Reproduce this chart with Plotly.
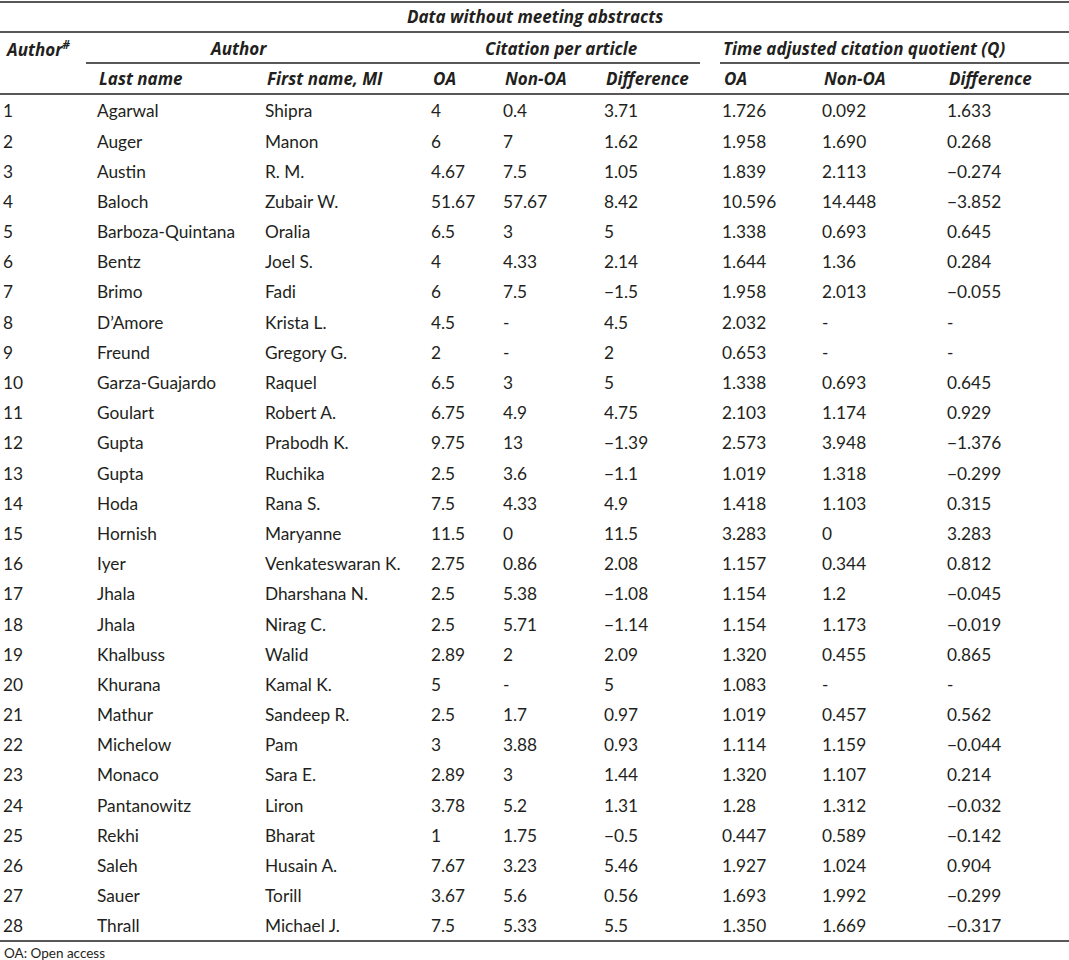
import plotly.graph_objects as go

# datos de la tabla (texto tal cual aparece)
author_no = [str(i) for i in range(1, 29)]
last_name = ["Agarwal", "Auger", "Austin", "Baloch", "Barboza-Quintana", "Bentz", "Brimo",
             "D\u2019Amore", "Freund", "Garza-Guajardo", "Goulart", "Gupta", "Gupta", "Hoda",
             "Hornish", "Iyer", "Jhala", "Jhala", "Khalbuss", "Khurana", "Mathur", "Michelow",
             "Monaco", "Pantanowitz", "Rekhi", "Saleh", "Sauer", "Thrall"]
first_name = ["Shipra", "Manon", "R. M.", "Zubair W.", "Oralia", "Joel S.", "Fadi", "Krista L.",
              "Gregory G.", "Raquel", "Robert A.", "Prabodh K.", "Ruchika", "Rana S.", "Maryanne",
              "Venkateswaran K.", "Dharshana N.", "Nirag C.", "Walid", "Kamal K.", "Sandeep R.",
              "Pam", "Sara E.", "Liron", "Bharat", "Husain A.", "Torill", "Michael J."]
cit_oa = ["4", "6", "4.67", "51.67", "6.5", "4", "6", "4.5", "2", "6.5", "6.75", "9.75", "2.5",
          "7.5", "11.5", "2.75", "2.5", "2.5", "2.89", "5", "2.5", "3", "2.89", "3.78", "1",
          "7.67", "3.67", "7.5"]
cit_non_oa = ["0.4", "7", "7.5", "57.67", "3", "4.33", "7.5", "-", "-", "3", "4.9", "13", "3.6",
              "4.33", "0", "0.86", "5.38", "5.71", "2", "-", "1.7", "3.88", "3", "5.2", "1.75",
              "3.23", "5.6", "5.33"]
cit_diff = ["3.71", "1.62", "1.05", "8.42", "5", "2.14", "\u22121.5", "4.5", "2", "5", "4.75",
            "\u22121.39", "\u22121.1", "4.9", "11.5", "2.08", "\u22121.08", "\u22121.14", "2.09",
            "5", "0.97", "0.93", "1.44", "1.31", "\u22120.5", "5.46", "0.56", "5.5"]
q_oa = ["1.726", "1.958", "1.839", "10.596", "1.338", "1.644", "1.958", "2.032", "0.653", "1.338",
        "2.103", "2.573", "1.019", "1.418", "3.283", "1.157", "1.154", "1.154", "1.320", "1.083",
        "1.019", "1.114", "1.320", "1.28", "0.447", "1.927", "1.693", "1.350"]
q_non_oa = ["0.092", "1.690", "2.113", "14.448", "0.693", "1.36", "2.013", "-", "-", "0.693",
            "1.174", "3.948", "1.318", "1.103", "0", "0.344", "1.2", "1.173", "0.455", "-",
            "0.457", "1.159", "1.107", "1.312", "0.589", "1.024", "1.992", "1.669"]
q_diff = ["1.633", "0.268", "\u22120.274", "\u22123.852", "0.645", "0.284", "\u22120.055", "-", "-",
          "0.645", "0.929", "\u22121.376", "\u22120.299", "0.315", "3.283", "0.812", "\u22120.045",
          "\u22120.019", "0.865", "-", "0.562", "\u22120.044", "0.214", "\u22120.032", "\u22120.142",
          "0.904", "\u22120.299", "\u22120.317"]

sub_headers = ["Last name", "First name, MI", "OA", "Non-OA", "Difference", "OA", "Non-OA", "Difference"]

FONT = "Lato"
HFONT = "Open Sans"
TXT = "#231f20"
W, H = 1069, 960
ROW0 = 113      # y (px) de la primera fila
ROW_H = 30.19

columnas = [author_no, last_name, first_name, cit_oa, cit_non_oa, cit_diff, q_oa, q_non_oa, q_diff]
col_x = [3, 97, 265, 431, 503, 604, 722, 822, 947]

fig = go.Figure()

filas_y = [ROW0 + i * ROW_H for i in range(len(author_no))]
for xc, col in zip(col_x, columnas):
    fig.add_trace(go.Scatter(
        x=[xc] * len(col), y=filas_y, text=col, mode="text",
        textposition="middle right", hoverinfo="skip", showlegend=False,
        textfont=dict(family=FONT, size=17.3, color=TXT),
    ))

def ann(texto, x, y, xanchor="left", size=17, family=HFONT):
    fig.add_annotation(x=x, y=y, xref="x", yref="y", text=texto, showarrow=False,
                       xanchor=xanchor, yanchor="middle",
                       font=dict(family=family, size=size, color=TXT))

ann("<b><i>Data without meeting abstracts</i></b>", 535, 16.5, "center")
ann("<b><i>Author<sup>#</sup></i></b>", 3, 48)
ann("<b><i>Author</i></b>", 238, 48, "center")
ann("<b><i>Citation per article</i></b>", 561, 48, "center")
ann("<b><i>Time adjusted citation quotient (Q)</i></b>", 721, 48)
for xc, h in zip(col_x[1:], sub_headers):
    ann("<b><i>" + h + "</i></b>", xc, 78.5)
ann("OA: Open access", 2, 953, size=13.5, family=FONT)

# lineas horizontales
lineas = [(0, W, 2), (0, W, 32), (86, 700, 63), (720, W, 63), (0, W, 94), (0, W, 941)]
for x0, x1, y in lineas:
    fig.add_shape(type="line", x0=x0, x1=x1, y0=y, y1=y, xref="x", yref="y",
                  line=dict(color="#231f20", width=1.5))

fig.update_xaxes(range=[0, W], visible=False, fixedrange=True)
fig.update_yaxes(range=[H, 0], visible=False, fixedrange=True)
fig.update_layout(
    width=W, height=H,
    margin=dict(l=0, r=0, t=0, b=0),
    plot_bgcolor="white", paper_bgcolor="white",
)

fig.write_html("out.html", config={"displayModeBar": False},
               post_script="document.body.style.margin='0';")
